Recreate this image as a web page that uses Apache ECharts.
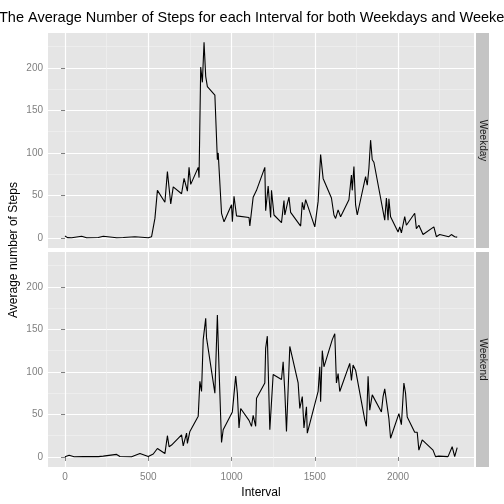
<!DOCTYPE html>
<html><head><meta charset="utf-8">
<script src="https://cdn.jsdelivr.net/npm/echarts@6/dist/echarts.min.js"></script>
<style>html,body{margin:0;padding:0;background:#fff}#c{width:504px;height:504px}</style>
</head><body><div id="c"></div>
<script>
const weekdayIntervals = [0,15,40,100,130,200,230,310,350,420,500,520,530,540,555,600,615,635,650,700,715,735,745,755,800,805,815,825,835,845,855,900,915,920,940,955,1000,1005,1015,1030,1105,1110,1130,1150,1155,1200,1205,1220,1235,1240,1255,1300,1315,1320,1335,1345,1355,1415,1425,1435,1445,1500,1520,1535,1550,1600,1615,1625,1640,1655,1705,1720,1725,1735,1745,1755,1805,1815,1825,1835,1845,1855,1920,1930,1940,1945,1955,2000,2010,2020,2040,2050,2100,2110,2125,2150,2155,2215,2230,2250,2305,2320,2340,2355];
const weekdayValues =    [2.3,0.4,0.2,2,0.3,0.5,2,0.3,0.5,1.5,0.3,1.5,3,23,56,42,78,40,60,52,70,55,83,63,83,71,201,183,230,190,178,168,92,100,29,19,39,19,49,26,24,14,48,56,56,83,32,61,24,56,27,18,44,27,40,48,30,14,42,33,45,13,43,98,70,47,27,23,33,25,45,74,56,84,39,27,72,62,82,115,92,89,21,47,21,46,25,7,13,6,25,15,29,11,15,4,3,13,1.5,4,1.5,4,1.5,1];
const weekendIntervals = [0,25,55,110,200,230,310,330,400,450,500,530,555,600,615,625,640,650,700,710,730,735,750,800,810,820,830,845,850,900,915,925,940,950,1005,1025,1035,1045,1055,1055,1105,1120,1130,1145,1150,1200,1205,1215,1230,1250,1300,1310,1320,1330,1350,1400,1410,1425,1435,1450,1455,1520,1530,1535,1545,1555,1605,1620,1630,1640,1650,1710,1720,1730,1745,1800,1810,1820,1830,1845,1900,1910,1920,1945,1955,2005,2020,2035,2045,2055,2100,2115,2125,2145,2210,2225,2245,2300,2325,2340,2355];
const weekendValues =    [0.2,2,0.3,0.5,0.4,1,3,0.5,0.3,4,0.5,3.5,10,4,25,12,14,16,26,13,28,16,30,48,89,77,138,163,140,75,167,104,17,32,53,95,75,34,57,59,43,36,49,36,69,87,128,142,32,97,91,112,77,30,130,87,57,71,34,59,28,77,106,65,125,106,138,145,87,98,77,110,90,108,102,44,36,95,55,73,53,71,80,45,22,51,38,87,75,47,29,29,8,20,8,0.4,1,0.4,12,0.4,11,0.4,0.1];
const xTicks = [0,500,1000,1500,2000];
const xMinor = [250,750,1250,1750,2250];
const yTicks = [0,50,100,150,200];
const yMinor = [25,75,125,175,225];
const panels = ['Weekday','Weekend'];

const bg = '#E5E5E5';
const grids = [{left:48,right:30,top:33,height:215},{left:48,right:30,top:252,height:215}];
const grid = grids.map(g=>Object.assign({show:true,backgroundColor:bg,borderWidth:0},g));
const xAxis=[], yAxis=[];
[0,1].forEach(i=>{
  xAxis.push({type:'value',gridIndex:i,min:-102,max:2456,
    axisLine:{show:false},axisTick:{show:i===1,length:4,lineStyle:{color:'#7F7F7F'},customValues:xTicks},
    axisLabel:{show:i===1,customValues:xTicks,formatter:v=>String(v),color:'#7F7F7F',fontSize:10,fontFamily:'Liberation Sans',margin:5},
    splitLine:{show:true,lineStyle:{color:'#fff',width:1.2}},
    name:i===1?'Interval':'',nameLocation:'middle',nameGap:20,nameTextStyle:{color:'#000',fontSize:12,fontFamily:'Liberation Sans'}});
  xAxis.push({type:'value',gridIndex:i,min:-102,max:2456,show:true,
    axisLine:{show:false},axisTick:{show:false,customValues:xMinor},axisLabel:{show:false,customValues:xMinor},
    splitLine:{show:true,lineStyle:{color:'#F2F2F2',width:0.6}}});
  yAxis.push({type:'value',gridIndex:i,min:-11.8,max:241,
    axisLine:{show:false},axisTick:{show:true,length:4,lineStyle:{color:'#7F7F7F'},customValues:yTicks},
    axisLabel:{customValues:yTicks,color:'#7F7F7F',fontSize:10,fontFamily:'Liberation Sans',margin:5},
    splitLine:{show:true,lineStyle:{color:'#fff',width:1.2}}});
  yAxis.push({type:'value',gridIndex:i,min:-11.8,max:241,show:true,
    axisLine:{show:false},axisTick:{show:false,customValues:yMinor},axisLabel:{show:false,customValues:yMinor},
    splitLine:{show:true,lineStyle:{color:'#F2F2F2',width:0.6}}});
});
const pairs=[[weekdayIntervals,weekdayValues],[weekendIntervals,weekendValues]];
const series = pairs.map((p,i)=>({type:'line',xAxisIndex:i*2,yAxisIndex:i*2,showSymbol:false,
  data:p[0].map((x,k)=>[x,p[1][k]]),lineStyle:{color:'#000',width:1.1},z:5}));
const graphic=[];
grids.forEach((g,i)=>{
  graphic.push({type:'rect',x:476,y:g.top,shape:{x:0,y:0,width:13,height:g.height},style:{fill:'#C4C4C4'}});
  graphic.push({type:'text',x:482.5,y:g.top+g.height/2,rotation:-Math.PI/2,
    style:{text:panels[i],fill:'#1A1A1A',font:'10px Liberation Sans',align:'center',verticalAlign:'middle'}});
});
graphic.push({type:'text',x:14,y:250,rotation:Math.PI/2,
  style:{text:'Average number of Steps',fill:'#000',font:'12px Liberation Sans',align:'center',verticalAlign:'middle'}});
graphic.push({type:'text',x:-1,y:25,
  style:{text:'The Average Number of Steps for each Interval for both Weekdays and Weekends',fill:'#000',font:'14.5px Liberation Sans',align:'left',verticalAlign:'bottom'}});
const chart=echarts.init(document.getElementById('c'));
chart.setOption({animation:false,grid,xAxis,yAxis,series,graphic});
</script></body></html>
